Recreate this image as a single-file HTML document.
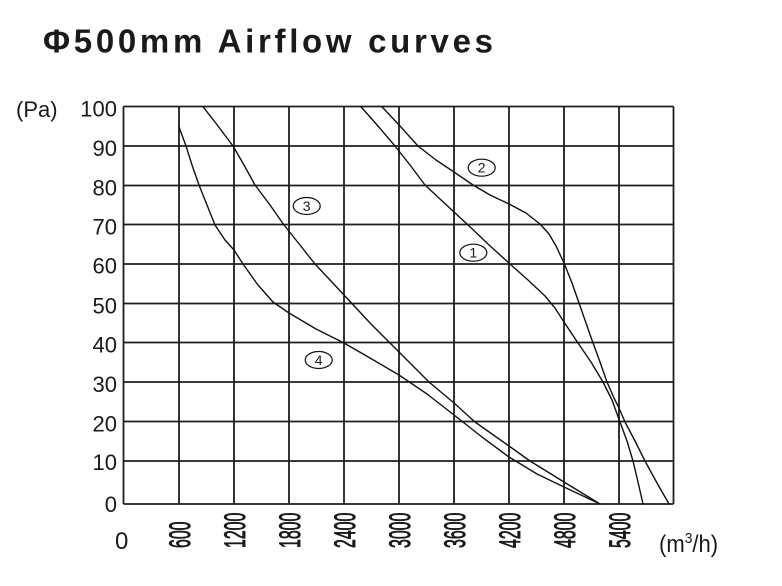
<!DOCTYPE html>
<html>
<head>
<meta charset="utf-8">
<style>
  html, body { margin:0; padding:0; background:#fff; }
  body { width:782px; height:586px; overflow:hidden; }
  svg { display:block; }
  text { font-family: "Liberation Sans", Arial, sans-serif; fill:#1a1a1a; }
</style>
</head>
<body>
<svg width="782" height="586" viewBox="0 0 782 586" xmlns="http://www.w3.org/2000/svg">
  <rect x="0" y="0" width="782" height="586" fill="#fff"/>

  <!-- Title -->
  <text x="43" y="52.3" font-size="33" font-weight="bold" textLength="450" lengthAdjust="spacing" fill="#262626">Φ500mm Airflow curves</text>

  <!-- Grid -->
  <g stroke="#1e1e1e" stroke-width="1.8" fill="none">
    <line x1="123.5" y1="106.5" x2="673.5" y2="106.5"/>
    <line x1="123.5" y1="146" x2="673.5" y2="146"/>
    <line x1="123.5" y1="185.5" x2="673.5" y2="185.5"/>
    <line x1="123.5" y1="224.5" x2="673.5" y2="224.5"/>
    <line x1="123.5" y1="264" x2="673.5" y2="264"/>
    <line x1="123.5" y1="303.5" x2="673.5" y2="303.5"/>
    <line x1="123.5" y1="342.5" x2="673.5" y2="342.5"/>
    <line x1="123.5" y1="382" x2="673.5" y2="382"/>
    <line x1="123.5" y1="421.5" x2="673.5" y2="421.5"/>
    <line x1="123.5" y1="461" x2="673.5" y2="461"/>
    <line x1="123.5" y1="504" x2="673.5" y2="504"/>

    <line x1="123.5" y1="106.5" x2="123.5" y2="504"/>
    <line x1="179" y1="106.5" x2="179" y2="504"/>
    <line x1="234" y1="106.5" x2="234" y2="504"/>
    <line x1="289" y1="106.5" x2="289" y2="504"/>
    <line x1="344" y1="106.5" x2="344" y2="504"/>
    <line x1="399" y1="106.5" x2="399" y2="504"/>
    <line x1="454" y1="106.5" x2="454" y2="504"/>
    <line x1="509" y1="106.5" x2="509" y2="504"/>
    <line x1="564" y1="106.5" x2="564" y2="504"/>
    <line x1="619" y1="106.5" x2="619" y2="504"/>
    <line x1="673.5" y1="106.5" x2="673.5" y2="504"/>
  </g>

  <!-- Curves -->
  <g stroke="#111" stroke-width="1.4" fill="none" stroke-linejoin="round" stroke-linecap="round">
    <!-- curve 4 -->
    <polyline points="179,127 186,146 192,165 199,185 207,205 215,225 225,240 234,250 243,264 258,285 273,302 289,313 316,329 344,343 370,358 399,375 427,394 454,415 482,437 509,457 537,474 564,487 600,504"/>
    <!-- curve 3 -->
    <polyline points="203,106.7 218,126 233,146 244,165 255,185 270,205 284,225 300,245 315,264 330,280 344,295 371,324 399,352 429,382 454,403 475,422 509,446 530,461 564,482 600,504"/>
    <!-- curve 1 -->
    <polyline points="360.7,106.5 378,126 395,146 410,165 425,185 440,199 454,212 467,224 488,244 510,264 528,280 545,296 555,308 564,322 578,343 591,362 603,382 612,400 620,422 627,441 633,461 638,482 643,504"/>
    <!-- curve 2 -->
    <polyline points="381.7,106.5 400,126 418,146 436,160 454,172 473,185 490,195 509,204 526,213 540,224 549,234 556,246 564,263 572,283 579,303 586,323 593,343 600,362 607,382 614,398 619,408 625,422 635,441 645,461 657,483 669,504"/>
  </g>

  <!-- Curve labels -->
  <g stroke="#111" stroke-width="1.2" fill="#fff">
    <ellipse cx="306.7" cy="206" rx="13.5" ry="8.5"/>
    <ellipse cx="481.7" cy="167.7" rx="13.5" ry="8.5"/>
    <ellipse cx="473.3" cy="252.7" rx="13.5" ry="8.5"/>
    <ellipse cx="318.7" cy="360" rx="13.5" ry="8.5"/>
  </g>
  <g font-size="14" text-anchor="middle">
    <text x="306.7" y="211">3</text>
    <text x="481.7" y="172.7">2</text>
    <text x="473.3" y="257.7">1</text>
    <text x="318.7" y="365">4</text>
  </g>

  <!-- Y axis labels -->
  <text x="16" y="117" font-size="22">(Pa)</text>
  <g font-size="22" text-anchor="end">
    <text x="117" y="116.7">100</text>
    <text x="117" y="156">90</text>
    <text x="117" y="195.3">80</text>
    <text x="117" y="234.7">70</text>
    <text x="117" y="273.7">60</text>
    <text x="117" y="313.3">50</text>
    <text x="117" y="352.7">40</text>
    <text x="117" y="392">30</text>
    <text x="117" y="431.7">20</text>
    <text x="117" y="470">10</text>
    <text x="117" y="512">0</text>
  </g>

  <!-- X axis labels -->
  <text x="115" y="549" font-size="24">0</text>
  <g font-size="30" stroke="#1a1a1a" stroke-width="0.9">
    <text transform="translate(190,548) rotate(-90) scale(0.53,1)">600</text>
    <text transform="translate(245,548) rotate(-90) scale(0.53,1)">1200</text>
    <text transform="translate(300,548) rotate(-90) scale(0.53,1)">1800</text>
    <text transform="translate(355,548) rotate(-90) scale(0.53,1)">2400</text>
    <text transform="translate(410,548) rotate(-90) scale(0.53,1)">3000</text>
    <text transform="translate(465,548) rotate(-90) scale(0.53,1)">3600</text>
    <text transform="translate(520,548) rotate(-90) scale(0.53,1)">4200</text>
    <text transform="translate(575,548) rotate(-90) scale(0.53,1)">4800</text>
    <text transform="translate(630,548) rotate(-90) scale(0.53,1)">5400</text>
  </g>
  <text transform="translate(659,552) scale(0.92,1)" font-size="24">(m<tspan font-size="15" dy="-9">3</tspan><tspan dy="9">/h)</tspan></text>
</svg>
</body>
</html>
